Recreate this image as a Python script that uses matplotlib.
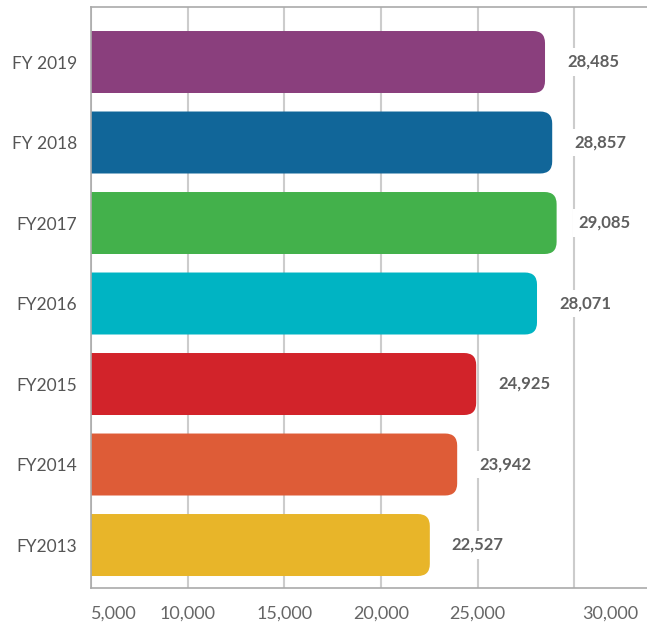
import numpy as np
import matplotlib
matplotlib.use('Agg')
import matplotlib.pyplot as plt
from matplotlib.patches import FancyBboxPatch
import matplotlib.transforms as mtransforms

# Data (bottom to top)
years = ['FY2013', 'FY2014', 'FY2015', 'FY2016', 'FY2017', 'FY 2018', 'FY 2019']
values = [22527, 23942, 24925, 28071, 29085, 28857, 28485]
colors = ['#E8B529', '#DE5C37', '#D2232A', '#00B4C3', '#43B14B', '#116699', '#8A3F7D']
tick_values = [5000, 10000, 15000, 20000, 25000, 30000]

plt.rcParams['font.family'] = ['Lato', 'DejaVu Sans']

fig = plt.figure(figsize=(6.47, 6.27), dpi=100)
ax = fig.add_axes([0.1406, 0.0622, 0.8594, 0.9266])

y = np.arange(len(years))
bars = ax.barh(y, values, height=0.77, color=colors, zorder=2)

ax.set_xlim(5000, 33760)
ax.set_ylim(-0.534, 6.683)

# replace the plain rectangles with ones rounded at the right end
x_scale = 0.01933   # px per data unit on x
y_scale = 80.5      # px per data unit on y
radius_px = 12
for rect, c in zip(bars, colors):
    x0, y0 = rect.get_x(), rect.get_y()
    w, h = rect.get_width(), rect.get_height()
    rect.set_visible(False)
    patch = FancyBboxPatch((x0, y0), w, h,
                           boxstyle='round,pad=0,rounding_size=%f' % (radius_px / x_scale),
                           mutation_aspect=x_scale / y_scale,
                           facecolor=c, edgecolor='none', zorder=2)
    ax.add_patch(patch)

# value labels
for yi, v in zip(y, values):
    ax.annotate(f'{v:,}', xy=(v, yi), xytext=(22, 0), textcoords='offset pixels',
                ha='left', va='center', fontsize=12, fontweight='bold', color='#5f5f5f',
                bbox=dict(boxstyle='square,pad=0.35', facecolor='white', edgecolor='none'),
                zorder=3)

ax.set_yticks(y)
ax.set_yticklabels(years, fontsize=12.5, color='#555555')
ax.set_xticks(tick_values)
ax.set_xticklabels([f'{t:,}' for t in tick_values], fontsize=13, color='#666666')
ax.tick_params(axis='y', length=0, pad=10)
ax.tick_params(axis='x', length=0, pad=13)

labels = ax.get_xticklabels()
labels[0].set_ha('left')
labels[-1].set_ha('left')
labels[-1].set_transform(labels[-1].get_transform() +
                         mtransforms.ScaledTranslation(8 / 100, 0, fig.dpi_scale_trans))

ax.grid(axis='x', color='#cccccc', linewidth=1.5, zorder=0)
ax.set_axisbelow(True)

for side in ['left', 'bottom', 'top']:
    ax.spines[side].set_color('#aaaaaa')
    ax.spines[side].set_linewidth(1.2)
ax.spines['right'].set_visible(False)

fig.savefig('out.png', dpi=100)
